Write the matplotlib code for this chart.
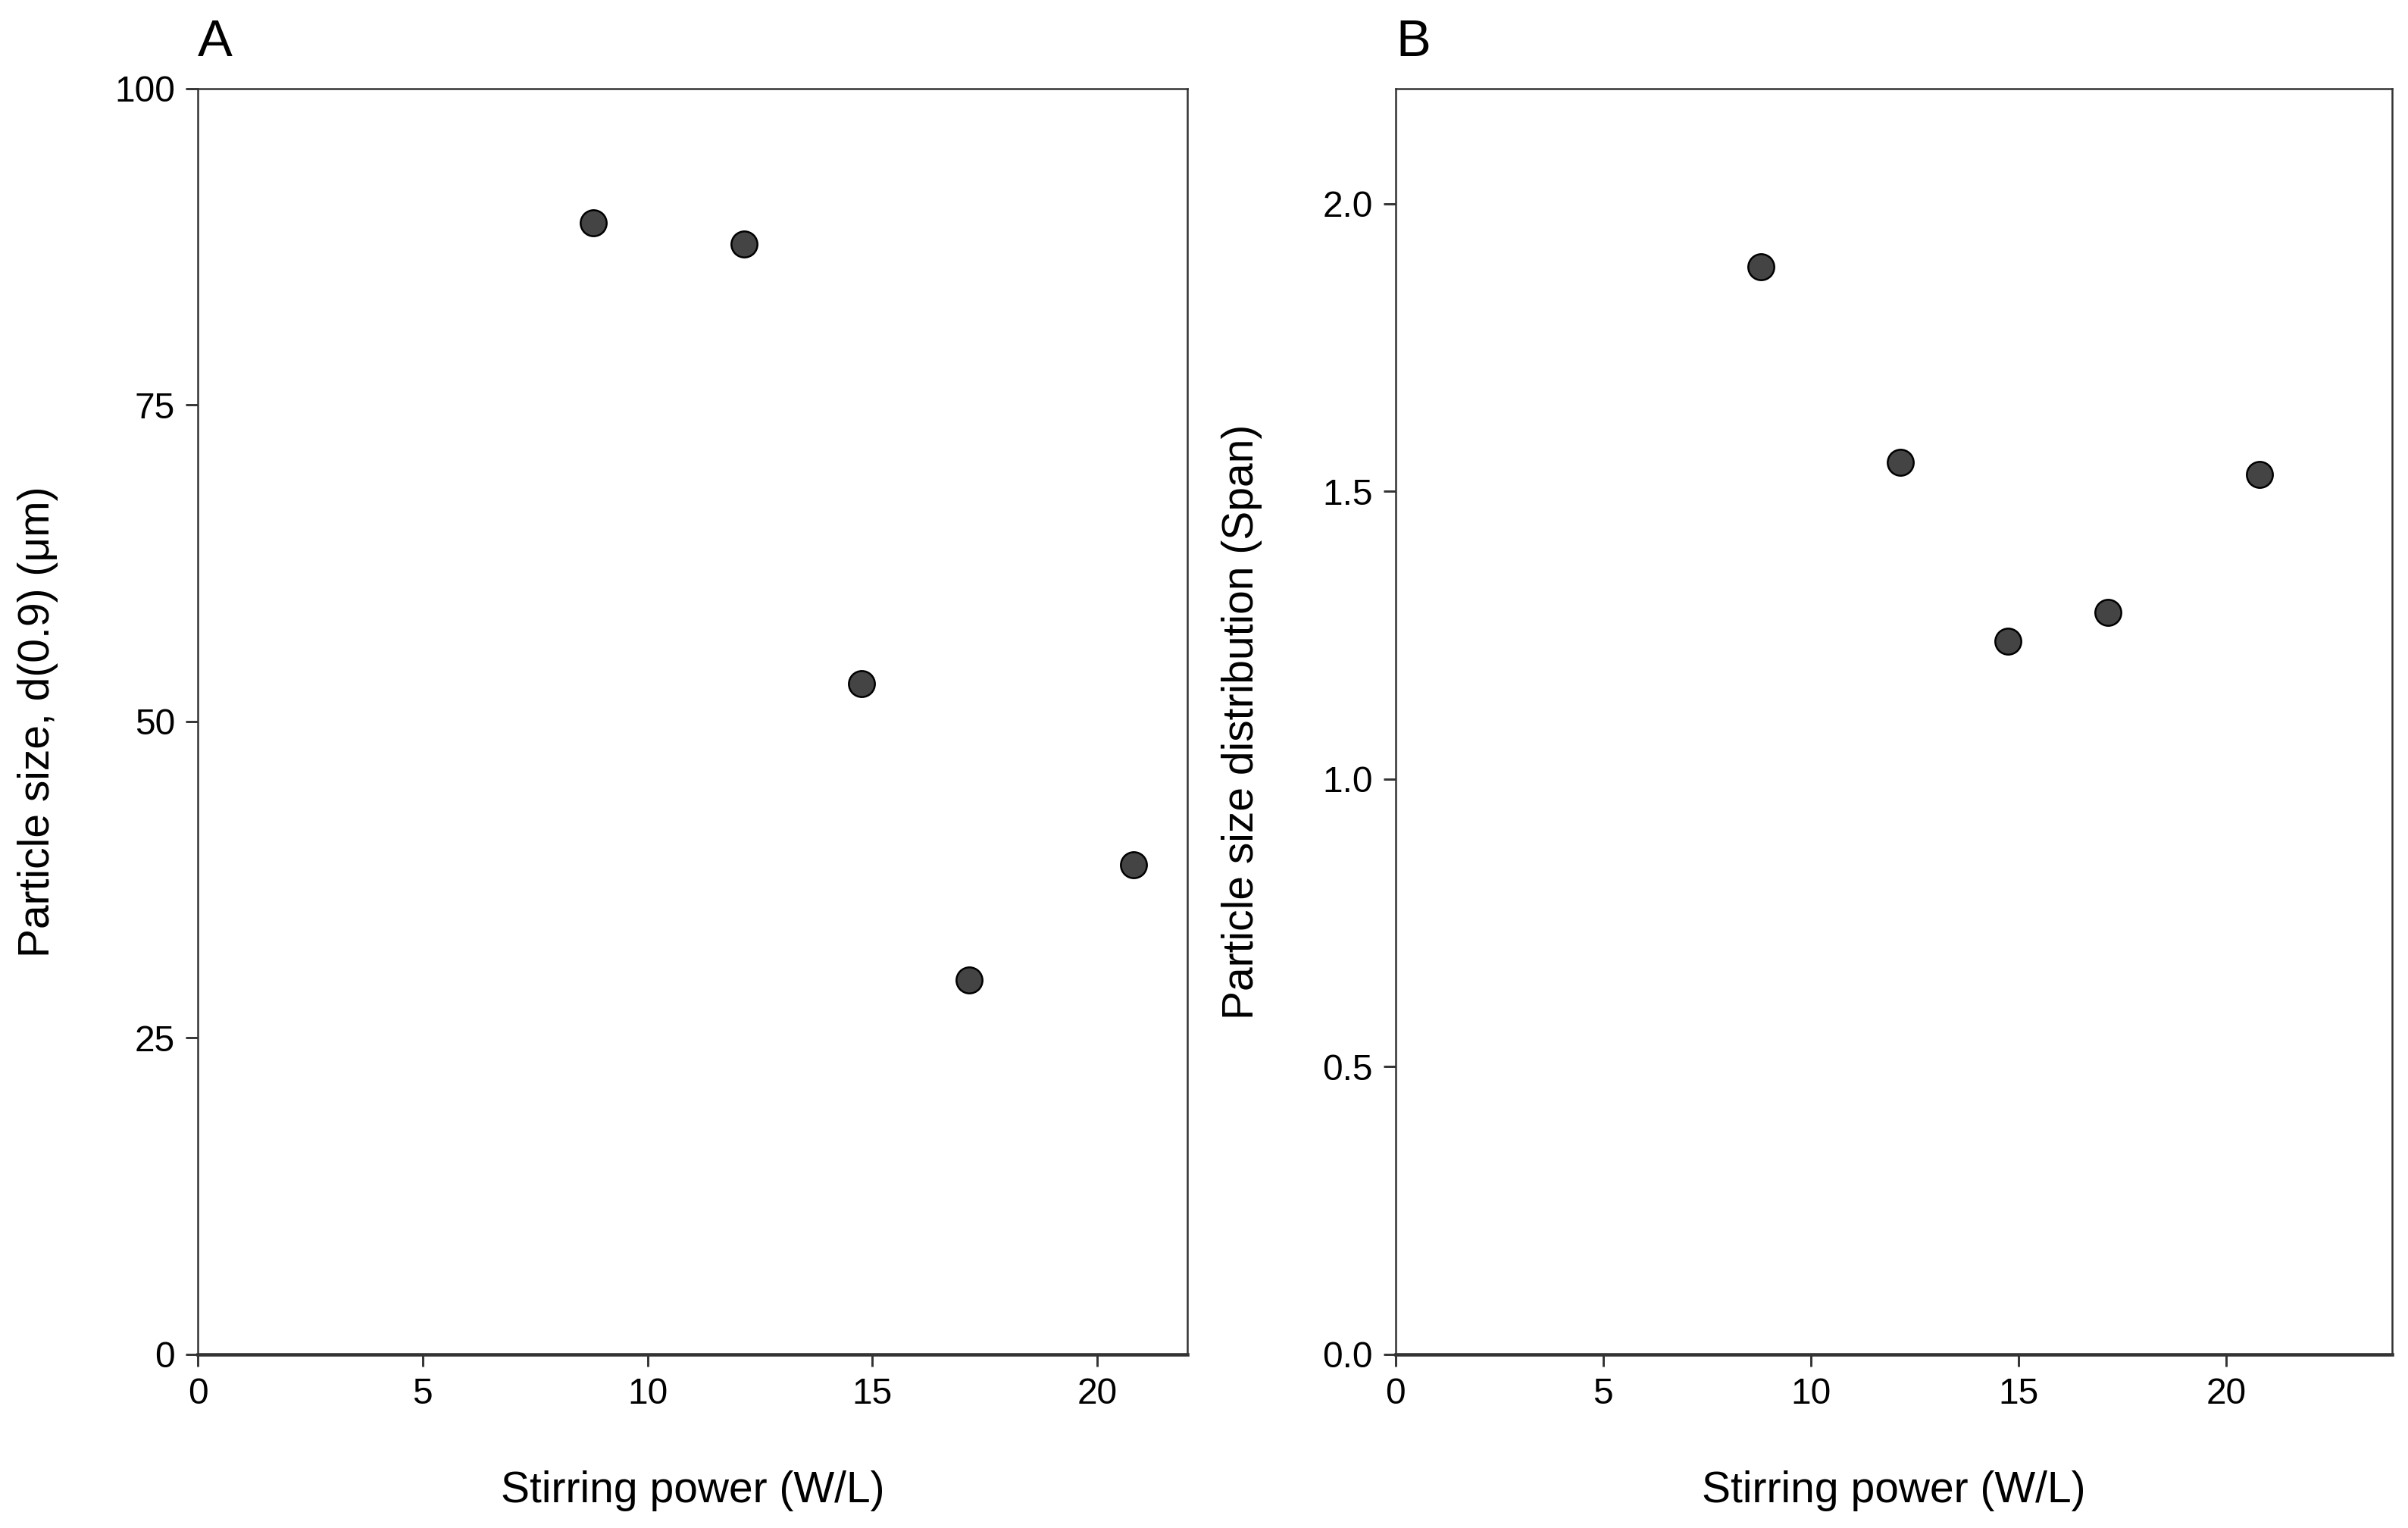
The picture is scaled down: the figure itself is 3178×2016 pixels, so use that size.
import numpy as np
import matplotlib
matplotlib.use("Agg")
import matplotlib.pyplot as plt

plt.rcParams['font.family'] = ['Liberation Sans', 'DejaVu Sans']

# stirring power (W/L)
power = [8.8, 12.15, 14.75, 17.15, 20.8]
# panel A: d(0.9) in um
d09 = [89.4, 87.7, 53.0, 29.6, 38.7]
# panel B: span
span = [1.89, 1.55, 1.24, 1.29, 1.53]

xticks_a = [0, 5, 10, 15, 20]
yticks_a = [0, 25, 50, 75, 100]
xticks_b = [0, 5, 10, 15, 20]
yticks_b = [0.0, 0.5, 1.0, 1.5, 2.0]

fig = plt.figure(figsize=(3179/300, 2016/300), dpi=300)
axA = fig.add_axes([0.0821, 0.1136, 0.4108, 0.8284])
axB = fig.add_axes([0.5794, 0.1136, 0.4137, 0.8284])

def style(ax):
    for s in ['top', 'right', 'left']:
        ax.spines[s].set_linewidth(0.6)
        ax.spines[s].set_color('#333333')
    ax.spines['bottom'].set_linewidth(1.1)
    ax.spines['bottom'].set_color('#333333')
    ax.tick_params(direction='out', length=3.8, width=0.7, color='#333333',
                   labelsize=11.5, labelcolor='black', pad=3.4)

axA.scatter(power, d09, s=68, color='#444444', edgecolor='black', linewidth=0.6, zorder=3)
axA.set_xlim(0, 22)
axA.set_ylim(0, 100)
axA.set_xticks(xticks_a)
axA.set_yticks(yticks_a)
style(axA)
axA.set_xlabel('Stirring power (W/L)', fontsize=13.7)
axA.set_ylabel('Particle size, d(0.9) (μm)', fontsize=13.7)
axA.xaxis.set_label_coords(0.5, -0.0916)
axA.yaxis.set_label_coords(-0.141, 0.5)
axA.text(0.0, 1.026, 'A', transform=axA.transAxes, fontsize=16.5, ha='left', va='baseline')

axB.scatter(power, span, s=68, color='#444444', edgecolor='black', linewidth=0.6, zorder=3)
axB.set_xlim(0, 24)
axB.set_ylim(0, 2.2)
axB.set_xticks(xticks_b)
axB.set_yticks(yticks_b)
axB.set_yticklabels([f'{v:.1f}' for v in yticks_b])
style(axB)
axB.set_xlabel('Stirring power (W/L)', fontsize=13.7)
axB.set_ylabel('Particle size distribution (Span)', fontsize=13.7)
axB.xaxis.set_label_coords(0.5, -0.0916)
axB.yaxis.set_label_coords(-0.134, 0.5)
axB.text(0.0, 1.026, 'B', transform=axB.transAxes, fontsize=16.5, ha='left', va='baseline')

fig.savefig('out.png', dpi=300)
